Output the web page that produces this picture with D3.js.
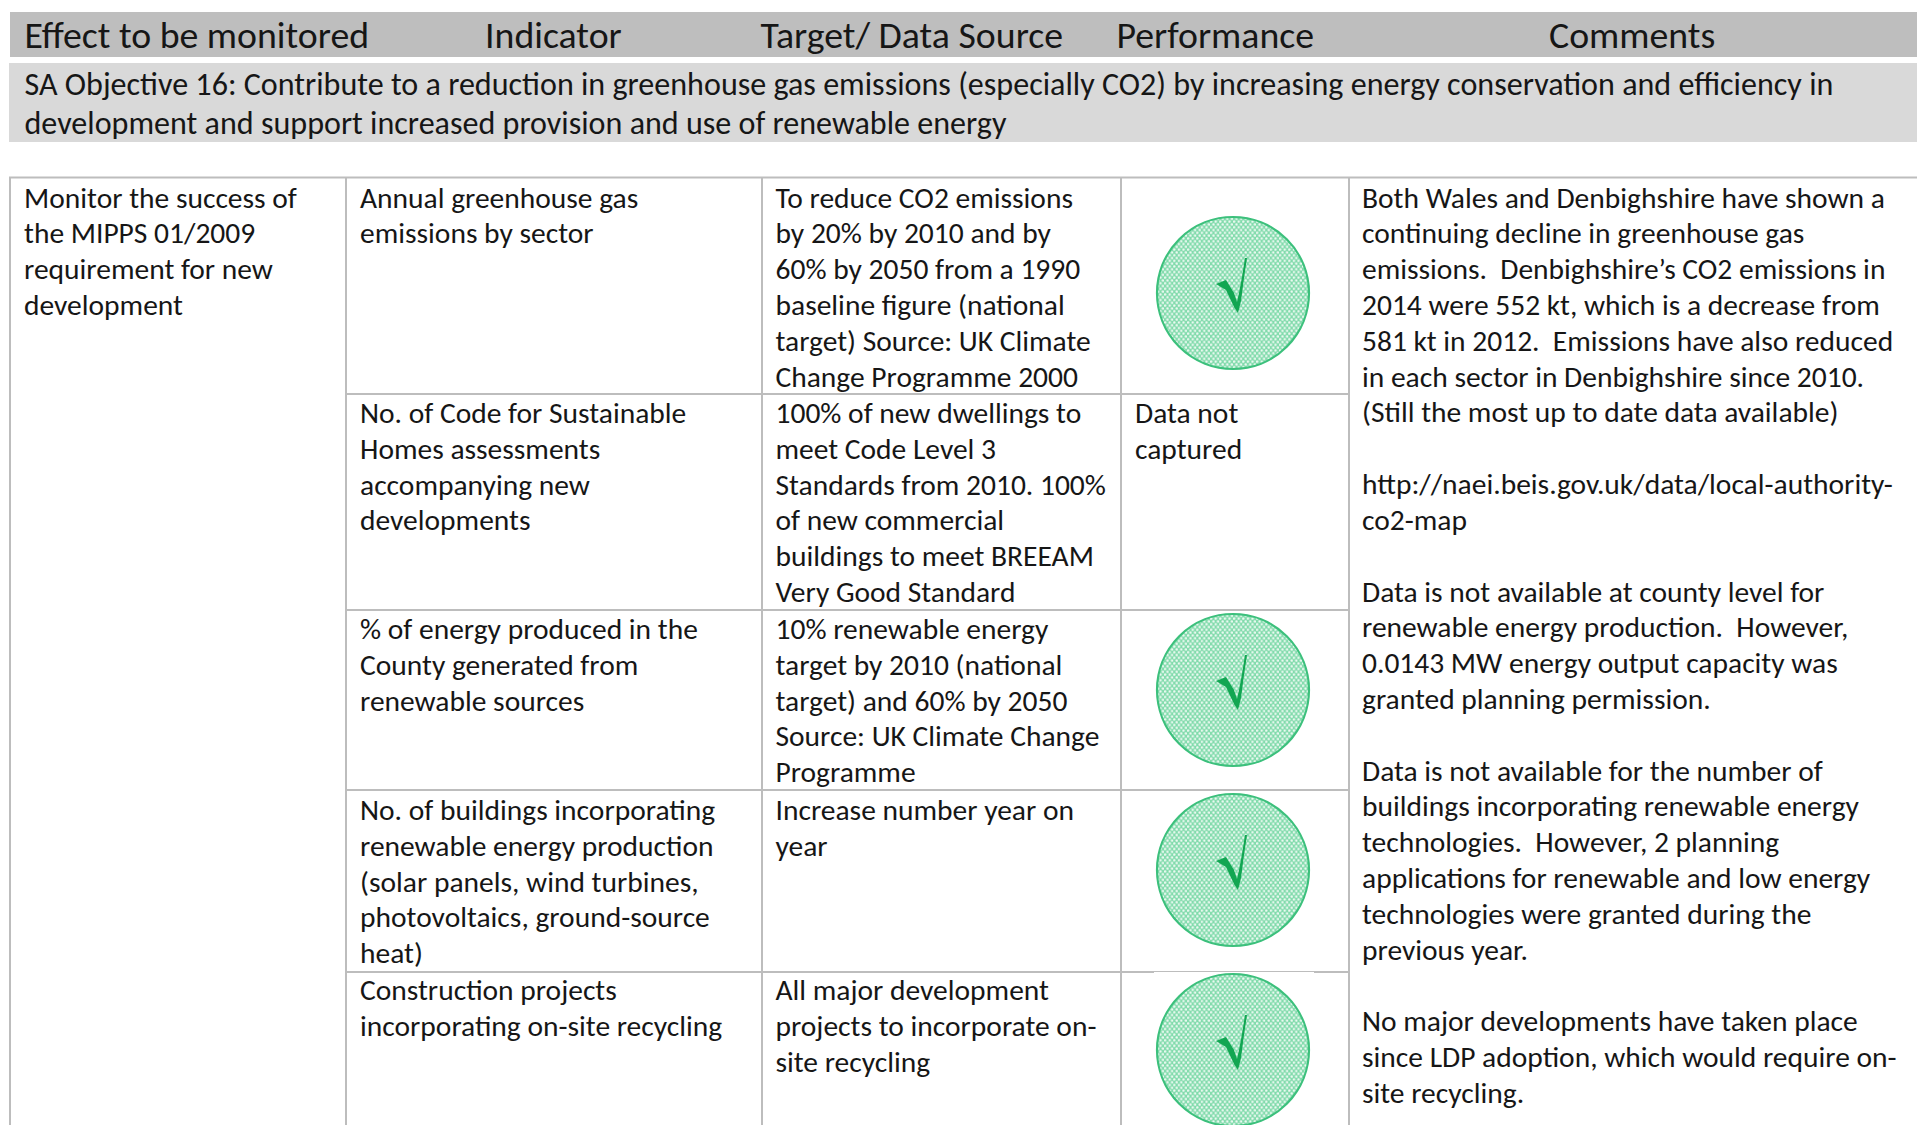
<!DOCTYPE html>
<html>
<head>
<meta charset="utf-8">
<title>SA Objective 16</title>
<script src="https://cdn.jsdelivr.net/npm/d3@7"></script>
<style>
  html, body { margin: 0; padding: 0; background: #fff; overflow: hidden; }
  text { font-family: Carlito, Calibri, Lato, sans-serif; fill: #161616; }
</style>
</head>
<body>
<svg id="chart"></svg>
<script>
var headers = ["Effect to be monitored", "Indicator", "Target/ Data Source", "Performance", "Comments"];
var objective = [
  "SA Objective 16: Contribute to a reduction in greenhouse gas emissions (especially CO2) by increasing energy conservation and efficiency in",
  "development and support increased provision and use of renewable energy"
];
var effect = ["Monitor the success of", "the MIPPS 01/2009", "requirement for new", "development"];
var indicators = [
  ["Annual greenhouse gas", "emissions by sector"],
  ["No. of Code for Sustainable", "Homes assessments", "accompanying new", "developments"],
  ["% of energy produced in the", "County generated from", "renewable sources"],
  ["No. of buildings incorporating", "renewable energy production", "(solar panels, wind turbines,", "photovoltaics, ground-source", "heat)"],
  ["Construction projects", "incorporating on-site recycling"]
];
var targets = [
  ["To reduce CO2 emissions", "by 20% by 2010 and by", "60% by 2050 from a 1990", "baseline figure (national", "target) Source: UK Climate", "Change Programme 2000"],
  ["100% of new dwellings to", "meet Code Level 3", "Standards from 2010. 100%", "of new commercial", "buildings to meet BREEAM", "Very Good Standard"],
  ["10% renewable energy", "target by 2010 (national", "target) and 60% by 2050", "Source: UK Climate Change", "Programme"],
  ["Increase number year on", "year"],
  ["All major development", "projects to incorporate on-", "site recycling"]
];
var performance_ = [
  [],
  ["Data not", "captured"],
  [],
  [],
  []
];
var ticked = [true, false, true, true, true];
var comments = [
  "Both Wales and Denbighshire have shown a",
  "continuing decline in greenhouse gas",
  "emissions.  Denbighshire\u2019s CO2 emissions in",
  "2014 were 552 kt, which is a decrease from",
  "581 kt in 2012.  Emissions have also reduced",
  "in each sector in Denbighshire since 2010.",
  "(Still the most up to date data available)",
  "",
  "http://naei.beis.gov.uk/data/local-authority-",
  "co2-map",
  "",
  "Data is not available at county level for",
  "renewable energy production.  However,",
  "0.0143 MW energy output capacity was",
  "granted planning permission.",
  "",
  "Data is not available for the number of",
  "buildings incorporating renewable energy",
  "technologies.  However, 2 planning",
  "applications for renewable and low energy",
  "technologies were granted during the",
  "previous year.",
  "",
  "No major developments have taken place",
  "since LDP adoption, which would require on-",
  "site recycling."
];

var width = 1917, height = 1125;
var bodySize = 29.5, headSize = 37.8, objSize = 32.1, lineH = 35.82;
var colX = [10, 346, 762, 1121, 1349];
var rowY = [177.5, 394, 610, 790, 972];
var rowNudge = [0, -1, -1, 0, -2];
var headX = [24.5, 485, 760.5, 1116.5, 1549];
var padX = 14, padY = 30;
var grey = "#bdbdbd";

var svg = d3.select("#chart").attr("width", width).attr("height", height)
    .style("display", "block");

// dotted fill of the tick badges
var pat = svg.append("defs").append("pattern")
    .attr("id", "dots").attr("patternUnits", "userSpaceOnUse")
    .attr("width", 4.6).attr("height", 5.6);
pat.append("rect").attr("width", 4.6).attr("height", 5.6).attr("fill", "#82dbac");
[[1.15, 1.4], [3.45, 4.2]].forEach(function(d) {
  pat.append("circle").attr("cx", d[0]).attr("cy", d[1]).attr("r", 1.25).attr("fill", "#eefaf3");
});

// header bands
svg.append("rect").attr("x", 10).attr("y", 12).attr("width", width - 10).attr("height", 45).attr("fill", "#bebebe");
svg.append("rect").attr("x", 9).attr("y", 63).attr("width", width - 9).attr("height", 79).attr("fill", "#d9d9d9");

svg.selectAll("text.head").data(headers).enter().append("text")
    .attr("class", "head")
    .attr("x", function(d, i) { return headX[i]; })
    .attr("y", 48)
    .style("font-size", headSize + "px")
    .text(function(d) { return d; });

svg.selectAll("text.obj").data(objective).enter().append("text")
    .attr("class", "obj")
    .attr("x", 24.5)
    .attr("y", function(d, i) { return 95 + i * 39; })
    .style("font-size", objSize + "px")
    .text(function(d) { return d; });

// grid
var grid = svg.append("g").attr("stroke", grey).attr("stroke-width", 2).attr("fill", "none");
grid.append("line").attr("x1", 9).attr("x2", width).attr("y1", rowY[0]).attr("y2", rowY[0]);
colX.forEach(function(x) {
  grid.append("line").attr("x1", x).attr("x2", x).attr("y1", rowY[0]).attr("y2", height);
});
rowY.slice(1).forEach(function(y) {
  grid.append("line").attr("x1", colX[1]).attr("x2", colX[4]).attr("y1", y).attr("y2", y);
});
// the badge image clips the last rule a little
svg.append("rect").attr("x", 1154).attr("y", rowY[4]).attr("width", 160).attr("height", 2).attr("fill", "#fff");

function cellText(lines, x, top, cls) {
  svg.append("g").attr("class", cls).selectAll("text").data(lines).enter().append("text")
      .attr("x", x)
      .attr("y", function(d, i) { return top + padY + i * lineH; })
      .style("white-space", "pre")
      .style("font-size", bodySize + "px")
      .text(function(d) { return d; });
}

cellText(effect, colX[0] + padX, rowY[0], "effect");
cellText(comments, colX[4] + padX - 1, rowY[0], "comments");
rowY.forEach(function(y, i) {
  var top = y + rowNudge[i];
  cellText(indicators[i], colX[1] + padX, top, "indicator");
  cellText(targets[i], colX[2] + padX - 0.5, top, "target");
  cellText(performance_[i], colX[3] + padX, top, "performance");
});

// tick badges
var checkShape = d3.line()([[-17, -9], [-7, -13], [1, 0], [4, 9], [6, 0], [9, -16], [12, -35], [14, -35], [11, -15], [8, 8], [5, 20], [1, 14], [-7, -3]]);
var badges = svg.selectAll("g.badge")
    .data(rowY.filter(function(d, i) { return ticked[i]; }))
  .enter().append("g")
    .attr("class", "badge")
    .attr("transform", function(d, i) { return "translate(1233," + [293, 690, 870, 1050][i] + ")"; });
badges.append("circle").attr("r", 76).attr("fill", "url(#dots)").attr("stroke", "#3cc07c").attr("stroke-width", 2.2);
badges.append("path").attr("d", checkShape + "Z").attr("fill", "#12a652");
</script>
</body>
</html>
